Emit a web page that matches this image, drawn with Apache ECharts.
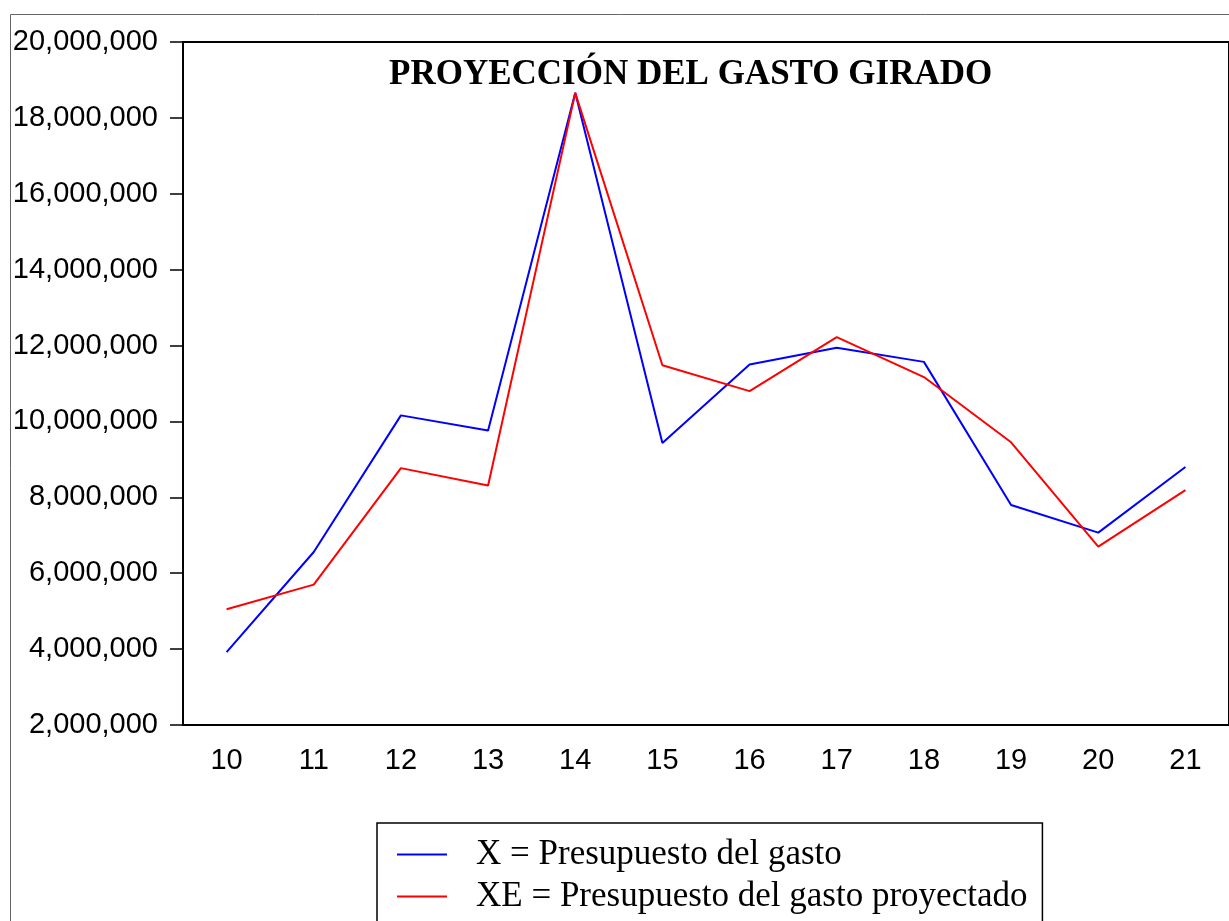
<!DOCTYPE html>
<html>
<head>
<meta charset="utf-8">
<title>Proyección del gasto girado</title>
<script src="https://cdn.jsdelivr.net/npm/echarts@6/dist/echarts.min.js"></script>
<style>
    html, body { margin: 0; padding: 0; background: #fff; }
    #chart { width: 1229px; height: 921px; }
</style>
</head>
<body>
<div id="chart"></div>
<script>
// 数据
const periodos = ['10', '11', '12', '13', '14', '15', '16', '17', '18', '19', '20', '21'];
const presupuesto = [3920000, 6560000, 10160000, 9760000, 18660000, 9430000, 11500000, 11940000, 11570000, 7800000, 7070000, 8800000];
const proyectado = [5050000, 5700000, 8770000, 8310000, 18660000, 11480000, 10800000, 12220000, 11170000, 9450000, 6700000, 8190000];
const nombres = ['X = Presupuesto del gasto', 'XE = Presupuesto del gasto proyectado'];

const chart = echarts.init(document.getElementById('chart'));

// 千分位格式
function fmt(v) {
    return String(v).replace(/\B(?=(\d{3})+(?!\d))/g, ',');
}

const option = {
    animation: false,
    backgroundColor: '#fff',
    title: {
        text: 'PROYECCIÓN DEL GASTO GIRADO',
        left: 384,
        top: 52,
        textStyle: {
            fontFamily: 'Liberation Serif',
            fontWeight: 'bold',
            fontSize: 35,
            color: '#000'
        }
    },
    graphic: [{
        type: 'rect',
        shape: { x: 10.5, y: 14.5, width: 1400, height: 1000 },
        style: { fill: 'none', stroke: '#666', lineWidth: 1 },
        z: -1
    }],
    legend: {
        orient: 'vertical',
        left: 377,
        top: 823,
        height: 200,
        padding: [14, 15, 60, 20],
        itemGap: 7,
        itemWidth: 50,
        itemHeight: 2,
        icon: 'rect',
        borderColor: '#000',
        borderWidth: 1.5,
        textStyle: {
            fontFamily: 'Liberation Serif',
            fontSize: 35,
            color: '#000',
            padding: [0, 0, 0, 24]
        },
        data: nombres
    },
    grid: {
        left: 183,
        top: 42,
        width: 1050,
        height: 683,
        show: true,
        borderColor: '#000',
        borderWidth: 2
    },
    xAxis: {
        type: 'category',
        data: periodos,
        boundaryGap: true,
        axisLine: { lineStyle: { color: '#000', width: 2 } },
        axisTick: { length: 13, lineStyle: { color: '#000', width: 1.5 } },
        axisLabel: {
            margin: 21,
            fontFamily: 'Liberation Sans',
            fontSize: 29,
            color: '#000'
        },
        splitLine: { show: false }
    },
    yAxis: {
        type: 'value',
        min: 2000000,
        max: 20000000,
        interval: 2000000,
        axisLine: { show: true, lineStyle: { color: '#000', width: 2 } },
        axisTick: { show: true, length: 13, lineStyle: { color: '#000', width: 1.5 } },
        axisLabel: {
            margin: 25,
            fontFamily: 'Liberation Sans',
            fontSize: 29,
            color: '#000',
            formatter: fmt
        },
        splitLine: { show: false }
    },
    series: [
        {
            name: nombres[0],
            type: 'line',
            data: presupuesto,
            symbol: 'none',
            lineStyle: { color: '#0000ff', width: 2 },
            itemStyle: { color: '#0000ff' }
        },
        {
            name: nombres[1],
            type: 'line',
            data: proyectado,
            symbol: 'none',
            lineStyle: { color: '#ff0000', width: 2 },
            itemStyle: { color: '#ff0000' }
        }
    ]
};

chart.setOption(option);
</script>
</body>
</html>
